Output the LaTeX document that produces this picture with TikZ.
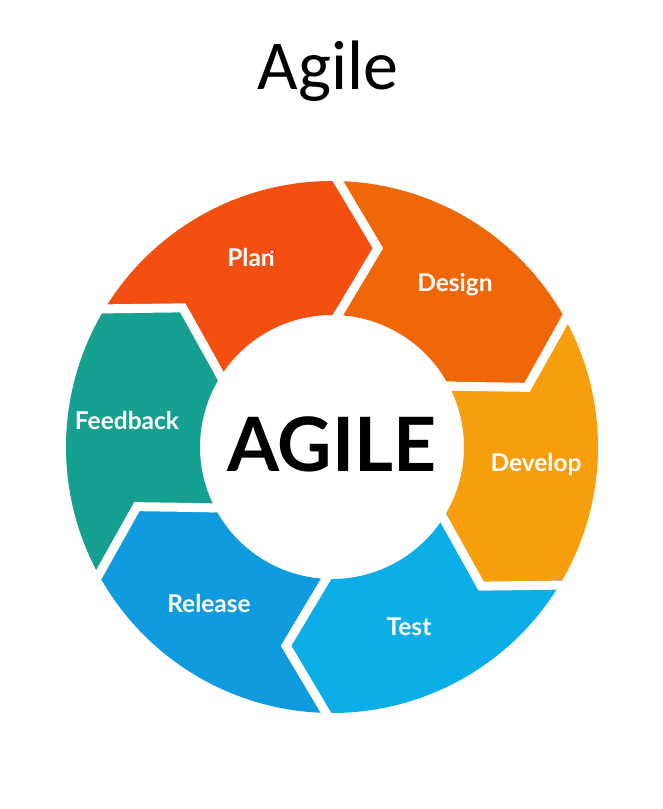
\documentclass[tikz,border=0pt]{standalone}
\usepackage{fontspec}
\setmainfont{Lato}
\newfontfamily\titlefont{Carlito}
\definecolor{cPlan}{HTML}{F44E10}
\definecolor{cDesign}{HTML}{EF6707}
\definecolor{cDevelop}{HTML}{F69E0B}
\definecolor{cTest}{HTML}{0BAEE6}
\definecolor{cRelease}{HTML}{119BDF}
\definecolor{cFeedback}{HTML}{15A091}
\begin{document}
\begin{tikzpicture}[x=1pt,y=1pt]
% ring radii (outer, inner, arrow tip) and tip offset in degrees
\def\Ro{266}\def\Ri{132}\def\Rm{204}\def\Tip{13}
\tikzset{
  gap/.style={white, line width=9pt, line join=miter, miter limit=10},
  stage/.style={font=\bfseries\fontsize{24.5}{27}\selectfont, text=white, anchor=base, inner sep=0pt},
}
\useasboundingbox (-332,-362) rectangle (331,447);
\fill[white] (-332,-362) rectangle (331,447);

% six arrow-shaped ring segments, pointing clockwise
\foreach \a/\col in {150/cPlan, 90/cDesign, 30/cDevelop, -30/cTest, -90/cRelease, -150/cFeedback} {
  \pgfmathsetmacro\b{\a-60}
  \pgfmathsetmacro\t{\b-\Tip}
  \pgfmathsetmacro\n{\a-\Tip}
  \fill[\col] (\a:\Ro pt) arc[start angle=\a, end angle=\b, radius=\Ro pt]
    -- (\t:\Rm pt) -- (\b:\Ri pt)
    arc[start angle=\b, end angle=\a, radius=\Ri pt]
    -- (\n:\Rm pt) -- cycle;
}
% white chevron gaps between the segments
\foreach \a in {150, 90, 30, -30, -90, -150} {
  \pgfmathsetmacro\n{\a-\Tip}
  \draw[gap] (\a:276pt) -- (\n:\Rm pt) -- (\a:122pt);
}

% title and centre word
\node[font=\titlefont\fontsize{70}{80}\selectfont, anchor=base, inner sep=0pt] (title) at (-4,357) {Agile};
\node[font=\bfseries\fontsize{75}{80}\selectfont, anchor=base, inner sep=0pt] (core) at (0,-24) {AGILE};

% stage labels
\node[stage] (plan) at (-81,180) {Plan};
\node[stage] (design) at (123,155.5) {Design};
\node[stage] (develop) at (204,-24) {Develop};
\node[stage] (test) at (77,-188.5) {Test};
\node[stage] (release) at (-123,-165) {Release};
\node[stage] (feedback) at (-205,18) {Feedback};

% pointer dot
\node[circle, draw=red!85!black, fill=red!15, line width=0.8pt, minimum size=5pt, inner sep=0pt] (pointer) at (-60,195) {};
\end{tikzpicture}
\end{document}
